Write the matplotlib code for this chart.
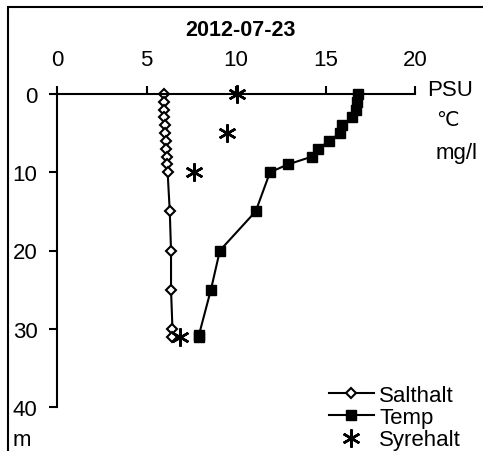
import matplotlib.pyplot as plt
from matplotlib.patches import Rectangle

plt.rcParams['font.family'] = ['Liberation Sans', 'DejaVu Sans']

# Salthalt (PSU)
salt_depth = [0, 1, 2, 3, 4, 5, 6, 7, 8, 9, 10, 15, 20, 25, 30, 31]
salt_val = [5.95, 5.95, 5.97, 6.0, 6.02, 6.05, 6.08, 6.1, 6.12, 6.15, 6.18,
            6.3, 6.37, 6.37, 6.45, 6.45]

# Temp (C)
temp_depth = [0, 1, 2, 3, 4, 5, 6, 7, 8, 9, 10, 15, 20, 25, 30.8, 31]
temp_val = [16.8, 16.75, 16.7, 16.5, 15.9, 15.8, 15.2, 14.6, 14.25, 12.9,
            11.9, 11.1, 9.1, 8.6, 7.93, 7.93]

# Syrehalt (mg/l)
oxy_depth = [0, 5, 10, 31]
oxy_val = [10.05, 9.5, 7.65, 6.85]

xticks = [0, 5, 10, 15, 20]
yticks = [0, 10, 20, 30, 40]

fs = 16

fig = plt.figure(figsize=(4.83, 4.52), dpi=100)
ax = fig.add_axes([57/483, 1-408/452, 358/483, 313/452])

ax.plot(salt_val, salt_depth, color='black', lw=1.5, marker='D', ms=5,
        mfc='white', mec='black', mew=1.5, label='Salthalt', clip_on=False)
ax.plot(temp_val, temp_depth, color='black', lw=1.5, marker='s', ms=7,
        mfc='black', mec='black', label='Temp', clip_on=False)
ax.plot(oxy_val, oxy_depth, ls='none', marker=(6, 2, 0), ms=13,
        color='black', mew=1.8, label='Syrehalt', clip_on=False)

ax.set_xlim(0, 20)
ax.set_ylim(40, 0)
ax.set_xticks(xticks)
ax.set_yticks(yticks)
ax.xaxis.tick_top()
ax.tick_params(axis='both', direction='out', length=6, width=1.5,
               labelsize=fs, colors='black')
ax.tick_params(axis='x', pad=11)
ax.tick_params(axis='y', pad=8)
for s in ['right', 'bottom']:
    ax.spines[s].set_visible(False)
for s in ['left', 'top']:
    ax.spines[s].set_linewidth(1.5)
ax.patch.set_alpha(0)

fig.text(240/483, 1-30/452, '2012-07-23', ha='center', va='center',
         fontsize=15.5, fontweight='bold')
fig.text(450/483, 1-90/452, 'PSU', ha='center', va='center', fontsize=fs)
fig.text(447/483, 1-121/452, '\u2103', ha='center', va='center', fontsize=fs - 1.5,
         family=['DejaVu Sans'])
fig.text(457/483, 1-153/452, 'mg/l', ha='center', va='center', fontsize=fs)
fig.text(13/483, 1-441/452, 'm', ha='left', va='center', fontsize=fs)

leg = ax.legend(loc='upper left', bbox_to_anchor=(318/483, 1-375/452),
                bbox_transform=fig.transFigure, frameon=False, fontsize=fs,
                handlelength=2.0, handletextpad=0.25, labelspacing=0.05,
                borderpad=0)

fig.patches.append(Rectangle((8/483, -0.1), 1.2, 1 - 8/452 + 0.1,
                             transform=fig.transFigure, fill=False,
                             edgecolor='black', lw=1.5))

fig.savefig('out.png', dpi=100)
